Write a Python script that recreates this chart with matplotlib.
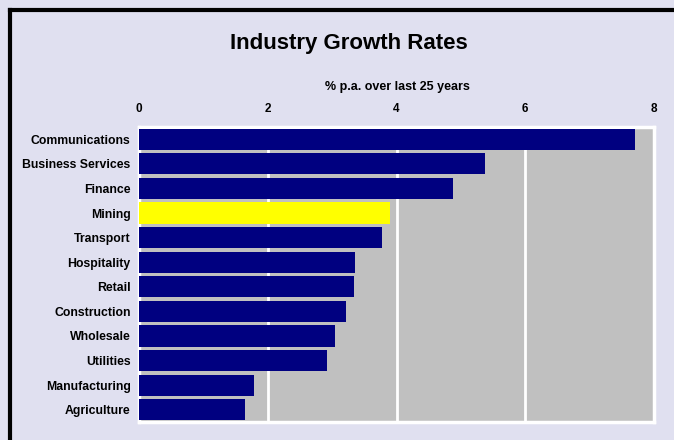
import matplotlib
matplotlib.use("Agg")
import matplotlib.pyplot as plt
from matplotlib.lines import Line2D

industries = ["Communications", "Business Services", "Finance", "Mining", "Transport",
              "Hospitality", "Retail", "Construction", "Wholesale", "Utilities",
              "Manufacturing", "Agriculture"]
growth = [7.71, 5.38, 4.88, 3.90, 3.77, 3.35, 3.34, 3.21, 3.04, 2.92, 1.78, 1.65]
highlight = "Mining"
xticks = [0, 2, 4, 6, 8]

plt.rcParams['font.family'] = ['Liberation Sans', 'DejaVu Sans']

fig = plt.figure(figsize=(6.74, 4.4), dpi=100)
bg = "#E0E0F0"
fig.patch.set_facecolor(bg)

ax = fig.add_axes([139/674, 1-422/440, (654-139)/674, (422-127)/440])
ax.set_facecolor("#C0C0C0")

colors = ["#FFFF00" if n == highlight else "#000080" for n in industries]
ypos = list(range(len(industries)))
ax.barh(ypos, growth, height=0.86, color=colors, zorder=3)
ax.set_ylim(len(industries) - 0.5, -0.5)
ax.set_xlim(0, 8)
ax.set_yticks(ypos)
ax.set_yticklabels(industries, fontsize=8.8, fontweight="bold")
ax.set_xticks(xticks)
ax.set_xticklabels([str(t) for t in xticks], fontsize=8.5, fontweight="bold")
ax.xaxis.tick_top()
ax.tick_params(axis="both", length=0)
ax.tick_params(axis="x", pad=9)
ax.tick_params(axis="y", pad=6)
ax.grid(axis="x", color="white", linewidth=2, zorder=1)
ax.set_axisbelow(True)
for s in ax.spines.values():
    s.set_color("white")
    s.set_linewidth(2.5)

fig.text(349/674, 1-43/440, "Industry Growth Rates", ha="center", va="center",
         fontsize=16, fontweight="bold")
fig.text(397/674, 1-87/440, "% p.a. over last 25 years", ha="center", va="center",
         fontsize=9, fontweight="bold")

# black frame (left and top edges visible)
fig.add_artist(Line2D([10/674, 10/674], [0, 1-10/440], transform=fig.transFigure,
                      color="black", linewidth=3))
fig.add_artist(Line2D([10/674, 1], [1-10/440, 1-10/440], transform=fig.transFigure,
                      color="black", linewidth=3))

fig.savefig("out.png", dpi=100, facecolor=bg)
